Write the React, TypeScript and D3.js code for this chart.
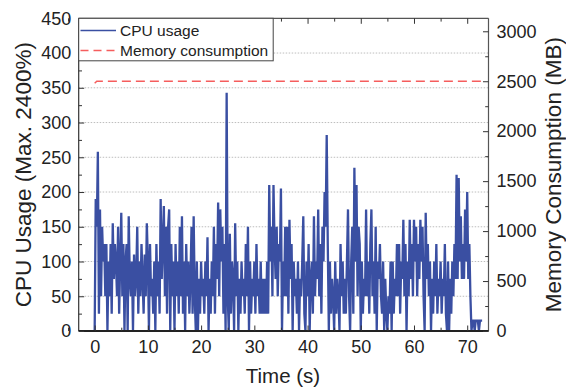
import * as d3 from "d3";
import React, { useRef, useEffect } from "react";

// CPU usage (%) sampled every 0.2 s, one row per second
const sampleStep = 0.2;
const cpuUsage = [
  0, 190, 150, 258, 25,
  175, 50, 150, 100, 125,
  50, 125, 0, 100, 50,
  125, 25, 155, 75, 125,
  100, 50, 150, 25, 100,
  170, 50, 125, 0, 100,
  125, 0, 165, 75, 50,
  100, 0, 110, 50, 75,
  150, 25, 100, 50, 125,
  75, 25, 110, 50, 155,
  100, 0, 125, 50, 75,
  25, 100, 0, 125, 50,
  100, 25, 190, 75, 125,
  180, 50, 150, 25, 150,
  175, 0, 125, 50, 100,
  0, 125, 50, 100, 25,
  150, 50, 165, 25, 100,
  0, 125, 50, 100, 25,
  75, 150, 25, 165, 50,
  0, 100, 0, 75, 25,
  100, 50, 75, 25, 100,
  50, 135, 0, 75, 25,
  100, 50, 150, 25, 125,
  75, 185, 50, 175, 100,
  150, 25, 125, 0, 343,
  50, 0, 140, 25, 100,
  75, 0, 155, 50, 100,
  0, 75, 25, 100, 50,
  75, 25, 125, 50, 150,
  0, 100, 25, 75, 50,
  100, 25, 125, 50, 75,
  25, 100, 25, 75, 25,
  75, 25, 100, 25, 210,
  100, 150, 50, 210, 125,
  75, 150, 50, 125, 100,
  205, 0, 100, 50, 150,
  50, 150, 25, 160, 75,
  125, 0, 100, 50, 75,
  25, 100, 0, 75, 50,
  100, 165, 25, 0, 100,
  50, 125, 0, 75, 100,
  25, 165, 50, 100, 75,
  175, 50, 125, 25, 150,
  100, 200, 150, 282, 125,
  0, 100, 25, 75, 50,
  0, 100, 25, 75, 50,
  0, 125, 50, 100, 25,
  75, 25, 100, 175, 50,
  0, 100, 150, 25, 235,
  100, 210, 50, 150, 125,
  0, 100, 25, 75, 50,
  175, 50, 100, 25, 125,
  175, 50, 100, 25, 150,
  0, 100, 75, 125, 50,
  25, 100, 0, 75, 25,
  0, 50, 25, 100, 0,
  100, 25, 75, 50, 125,
  50, 125, 25, 100, 75,
  160, 50, 125, 0, 100,
  50, 160, 75, 125, 50,
  160, 100, 150, 50, 125,
  75, 160, 100, 150, 50,
  0, 170, 75, 125, 50,
  100, 0, 75, 25, 100,
  50, 125, 25, 75, 50,
  100, 25, 75, 50, 125,
  25, 0, 100, 0, 75,
  25, 100, 50, 125, 75,
  225, 75, 220, 100, 165,
  75, 125, 75, 175, 100,
  200, 75, 125, 50, 0,
  15, 15, 0, 15, 15,
  15, 0, 15, 15, 15,
];

const memTime = [0, 0.4, 72.6];
const memValue = [2480, 2500, 2500];

const cpuTicks = [0, 50, 100, 150, 200, 250, 300, 350, 400, 450];
const cpuMinor = [25, 75, 125, 175, 225, 275, 325, 375, 425];
const memTicks = [0, 500, 1000, 1500, 2000, 2500, 3000];
const memMinor = [250, 750, 1250, 1750, 2250, 2750];
const timeTicks = [0, 10, 20, 30, 40, 50, 60, 70];
const timeMinor = [-5, 5, 15, 25, 35, 45, 55, 65];
const gridValues = [50, 100, 150, 200, 250, 300, 350, 400];

const W = 566, H = 389;
const ml = 78.7, mr = 488.5, mt = 18.3, mb = 331;
const font = "Arial, 'Liberation Sans', sans-serif";
const blue = "#3a4fa2";
const red = "#f55d5d";

const App: React.FC = () => {
  const gLeft = useRef(null);
  const gLeftMinor = useRef(null);
  const gRight = useRef(null);
  const gRightMinor = useRef(null);
  const gBottom = useRef(null);
  const gBottomMinor = useRef(null);
  const gTop = useRef(null);
  const gTopMinor = useRef(null);

  const x = d3.scaleLinear([-3, 74], [ml, mr]);
  const y = d3.scaleLinear([0, 450], [mb, mt]);
  const yMem = d3.scaleLinear([0, 3130], [mb, mt]);

  const cpuLine = d3.line<number>()
    .x((_, i) => x(i * sampleStep))
    .y((d) => y(d));
  const memLine = d3.line<number>()
    .x((_, i) => x(memTime[i]))
    .y((d) => yMem(d));

  useEffect(() => {
    const style = (g: any) => {
      g.select(".domain").remove();
      g.selectAll("line").attr("stroke", "#333").attr("stroke-width", 1);
      g.selectAll("text").attr("font-size", 18).attr("font-family", font).attr("fill", "#222");
    };
    const plain = d3.format("d");
    d3.select(gLeft.current).call(d3.axisLeft(y).tickValues(cpuTicks).tickSize(-5.5).tickPadding(7.5).tickFormat(plain as any) as any).call(style);
    d3.select(gLeftMinor.current).call(d3.axisLeft(y).tickValues(cpuMinor).tickSize(-3.3).tickFormat(() => "") as any).call(style);
    d3.select(gRight.current).call(d3.axisRight(yMem).tickValues(memTicks).tickSize(-5.5).tickPadding(8).tickFormat(plain as any) as any).call(style);
    d3.select(gRightMinor.current).call(d3.axisRight(yMem).tickValues(memMinor).tickSize(-3.3).tickFormat(() => "") as any).call(style);
    d3.select(gBottom.current).call(d3.axisBottom(x).tickValues(timeTicks).tickSize(-5.5).tickPadding(9).tickFormat(plain as any) as any).call(style);
    d3.select(gBottomMinor.current).call(d3.axisBottom(x).tickValues(timeMinor).tickSize(-3.3).tickFormat(() => "") as any).call(style);
    d3.select(gTop.current).call(d3.axisTop(x).tickValues(timeTicks).tickSize(-5.5).tickFormat(() => "") as any).call(style);
    d3.select(gTopMinor.current).call(d3.axisTop(x).tickValues(timeMinor).tickSize(-3.3).tickFormat(() => "") as any).call(style);
  }, []);

  return (
    <>
      <style>{`body{margin:0}`}</style>
      <svg width={W} height={H} style={{ display: "block", background: "#fff" }}>
        {gridValues.map((v) => (
          <line key={v} x1={ml} x2={mr} y1={y(v)} y2={y(v)} stroke="#bdbdbd" strokeWidth={1} strokeDasharray="1.5,1.5" />
        ))}
        <path d={cpuLine(cpuUsage) || ""} fill="none" stroke={blue} strokeWidth={2.3} strokeLinejoin="miter" />
        <path d={memLine(memValue) || ""} fill="none" stroke={red} strokeWidth={1.5} strokeDasharray="9,5" />

        {/* frame */}
        <line x1={ml} x2={ml} y1={mt} y2={mb} stroke="#333" strokeWidth={1.2} />
        <line x1={mr} x2={mr} y1={mt} y2={mb} stroke="#555" strokeWidth={1.2} />
        <line x1={ml} x2={mr} y1={mt} y2={mt} stroke="#555" strokeWidth={1.2} />
        <line x1={ml} x2={mr} y1={mb} y2={mb} stroke="#222" strokeWidth={2} />

        <g ref={gLeft} transform={`translate(${ml},0)`} />
        <g ref={gLeftMinor} transform={`translate(${ml},0)`} />
        <g ref={gRight} transform={`translate(${mr},0)`} />
        <g ref={gRightMinor} transform={`translate(${mr},0)`} />
        <g ref={gBottom} transform={`translate(0,${mb})`} />
        <g ref={gBottomMinor} transform={`translate(0,${mb})`} />
        <g ref={gTop} transform={`translate(0,${mt})`} />
        <g ref={gTopMinor} transform={`translate(0,${mt})`} />

        {/* legend */}
        <rect x={ml} y={mt} width={194.5} height={42.5} fill="#fff" stroke="#444" strokeWidth={1} />
        <line x1={80.5} x2={116} y1={30.5} y2={30.5} stroke={blue} strokeWidth={1.5} />
        <line x1={80.5} x2={116} y1={50.5} y2={50.5} stroke={red} strokeWidth={1.5} strokeDasharray="8,5" />
        <text x={120} y={36} fontFamily={font} fontSize={15.5} fill="#222">CPU usage</text>
        <text x={120} y={56} fontFamily={font} fontSize={15.5} fill="#222">Memory consumption</text>

        {/* axis titles */}
        <text transform={`translate(31,${(mt + mb) / 2}) rotate(-90)`} textAnchor="middle" fontFamily={font} fontSize={22.5} fill="#222">CPU Usage (Max. 2400%)</text>
        <text transform={`translate(561,${(mt + mb) / 2}) rotate(-90)`} textAnchor="middle" fontFamily={font} fontSize={22.5} fill="#222">Memory Consumption (MB)</text>
        <text x={283} y={383} textAnchor="middle" fontFamily={font} fontSize={20.5} fill="#222">Time (s)</text>
      </svg>
    </>
  );
};

export default App;
